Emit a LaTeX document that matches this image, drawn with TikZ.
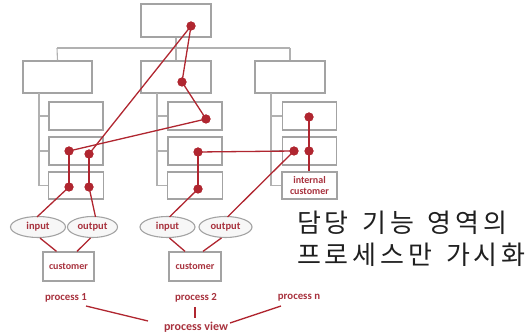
\documentclass[tikz,border=0pt]{standalone}
\usepackage{fontspec}
\setmainfont{Carlito}
\newfontfamily\krfont[LetterSpace=15,WordSpace=1.4]{Noto Sans CJK KR}
\usetikzlibrary{shapes.geometric,calc}
\definecolor{boxgray}{HTML}{A3A3A3}
\definecolor{linkred}{HTML}{B02630}
\definecolor{textred}{HTML}{A8323E}
\begin{document}
\begin{tikzpicture}[x=1pt,y=-1pt,
  gbox/.style={draw=boxgray,line width=1.3pt,fill=white,inner sep=0pt},
  tree/.style={draw=boxgray!85,line width=1.1pt},
  link/.style={draw=linkred,line width=1.3pt},
  dot/.style={circle,fill=linkred,inner sep=0pt,minimum size=9pt},
  rtext/.style={text=textred,font=\bfseries\fontsize{10}{11}\selectfont},
  ptext/.style={text=textred,font=\bfseries\fontsize{10.8}{12}\selectfont},
  krtext/.style={anchor=base west,inner sep=0pt,font=\krfont\fontsize{26}{28}\selectfont,text=black!88},
  ell/.style={ellipse,draw=boxgray,line width=1.1pt,fill=gray!6,minimum width=55pt,minimum height=21pt,inner sep=0pt,text=textred,font=\bfseries\fontsize{10.5}{11}\selectfont}]
\useasboundingbox (0,0) rectangle (527,336);
% level 1
\node[gbox,minimum width=70pt,minimum height=33pt] (top) at (176,20.5) {};
% level 2
\node[gbox,minimum width=69pt,minimum height=32pt] (L) at (57.5,77) {};
\node[gbox,minimum width=70pt,minimum height=32pt] (M) at (176,77) {};
\node[gbox,minimum width=70pt,minimum height=32pt] (R) at (290,77) {};
% bus
\coordinate (b0) at (176,48);
\coordinate (bl) at (57,48);
\coordinate (br) at (290,48);
\draw[tree] (top.south) -- (b0) (bl) -- (br);
\draw[tree] (bl) -- (L.north);
\draw[tree] (b0) -- (M.north);
\draw[tree] (br) -- (R.north);
% children
\foreach \col/\cx/\vx in {L/76/39, M/195/157, R/309.5/271}{
  \node[gbox,minimum width=54pt,minimum height=28pt] (\col1) at (\cx,116) {};
  \node[gbox,minimum width=54pt,minimum height=28pt] (\col2) at (\cx,151) {};
  \node[gbox,minimum width=55pt,minimum height=27pt] (\col3) at (\cx,185.5) {};
  \coordinate (\col v0) at (\vx,93);
  \coordinate (\col v1) at (\vx,116);
  \coordinate (\col v2) at (\vx,151);
  \coordinate (\col v3) at (\vx,185.5);
  \draw[tree] (\col v0) -- (\col v3) -- (\col3.west);
  \draw[tree] (\col v1) -- (\col1.west);
  \draw[tree] (\col v2) -- (\col2.west);
}
% ellipses and customers
\node[ell] (in1) at (38,227) {input};
\node[ell,minimum width=50pt] (out1) at (92.5,227) {output};
\node[ell] (in2) at (167.5,227) {input};
\node[ell,minimum width=53pt] (out2) at (225.5,227) {output};
\node[gbox,minimum width=51pt,minimum height=29pt,rtext] (c1) at (68.5,266.5) {customer};
\node[gbox,minimum width=52pt,minimum height=29pt,rtext] (c2) at (195,266.5) {customer};
\draw[link] (in1.-80) -- ($(c1.north)+(-12,0)$);
\draw[link] (out1.-100) -- ($(c1.north)+(8.5,0)$);
\draw[link] (in2.-80) -- ($(c2.north)+(-10,0)$);
\draw[link] (out2.-110) -- ($(c2.north)+(8,0)$);
% dots
\node[dot] (d0) at (191,26) {};
\node[dot] (d1) at (182,82) {};
\node[dot] (d2) at (206,119) {};
\node[dot] (d3) at (69,151) {};
\node[dot] (d4) at (89,154) {};
\node[dot] (d5) at (69,187) {};
\node[dot] (d6) at (89,187) {};
\node[dot] (d7) at (198,152) {};
\node[dot] (d8) at (198,189) {};
\node[dot] (d9) at (294,151) {};
\node[dot] (d10) at (309,117) {};
\node[dot] (d11) at (309,151) {};
% red links
\draw[link] (d0.center) -- (d4.center);
\draw[link] (d0.center) -- (d1.center) -- (d2.center) -- (d3.center);
\draw[link] (d3.center) -- (d5.center);
\draw[link] (d4.center) -- (d6.center);
\draw[link] (d5.center) -- ($(in1.north)+(-1,1)$);
\draw[link] (d6.center) -- ($(out1.north)+(3,1)$);
\draw[link] (d7.center) -- (d8.center);
\draw[link] (d7.center) -- (d9.center);
\draw[link] (d8.center) -- ($(in2.north)+(2,1)$);
\draw[link] (d9.center) -- ($(out2.north)+(2,1)$);
\draw[link] (d10.center) -- (d11.center) -- (R3.north -| d11);
\node[rtext,align=center,font=\bfseries\fontsize{10}{10.5}\selectfont] (ic) at (309.5,185.5) {internal\\customer};
% redraw dots on top
\foreach \d in {d0,d1,d2,d3,d4,d5,d6,d7,d8,d9,d10,d11}{\fill[linkred] (\d) circle (4.5pt);}
% process labels
\node[ptext] (p1) at (66,298) {process 1};
\node[ptext] (p2) at (196,298) {process 2};
\node[ptext] (pn) at (299,298) {process n};
\node[ptext,font=\bfseries\fontsize{12}{13}\selectfont] (pv) at (196,327) {process view};
\draw[link] (86,306) -- (148,321);
\draw[link] ($(p2.south)+(-1,1)$) -- ($(pv.north)+(-1,0)$);
\draw[link] (281,306) -- (230,323);
% korean
\node[krtext] (kr1) at (297,233) {담당 기능 영역의};
\node[krtext] (kr2) at (297,265) {프로세스만 가시화};
\end{tikzpicture}
\end{document}
